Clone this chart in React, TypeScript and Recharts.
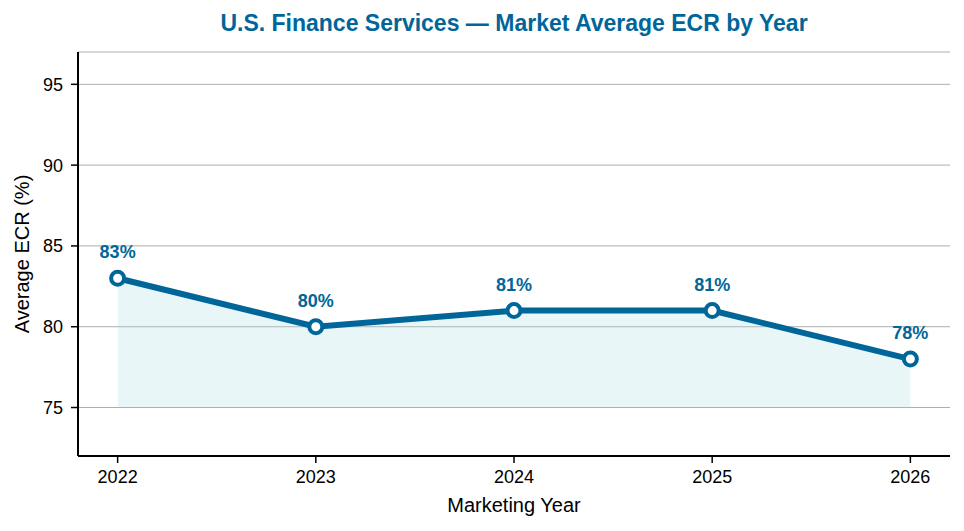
import React from 'react';
import { ComposedChart, Line, Area, XAxis, YAxis, CartesianGrid, LabelList, Label } from 'recharts';

const years = [2022, 2023, 2024, 2025, 2026];
const ecr = [83, 80, 81, 81, 78];
const yTicks = [75, 80, 85, 90, 95];

const data = years.map((y, i) => ({ year: y, value: ecr[i] }));

const BLUE = '#006699';
const FONT = '"Liberation Sans", Arial, Helvetica, sans-serif';

export default function App() {
  return (
    <div style={{ position: 'absolute', left: 0, top: 0, width: 964, height: 531, background: '#fff', fontFamily: FONT }}>
      <ComposedChart width={964} height={531} data={data} margin={{ top: 52, right: 14, bottom: 0, left: 0 }}>
        <text x={514} y={31} textAnchor="middle" fill={BLUE} fontSize={23} fontWeight="bold" fontFamily={FONT}>
          U.S. Finance Services — Market Average ECR by Year
        </text>
        <CartesianGrid vertical={false} stroke="#adadad" strokeWidth={1} />
        <XAxis
          dataKey="year"
          type="number"
          domain={[2021.8, 2026.2]}
          ticks={years}
          height={75}
          axisLine={{ stroke: '#000', strokeWidth: 2 }}
          tickLine={{ stroke: '#000', strokeWidth: 1.5 }}
          tickSize={7}
          tickMargin={7}
          tick={{ fill: '#000', fontSize: 18, fontFamily: FONT }}
          allowDataOverflow
        >
          <Label
            content={() => (
              <text x={514} y={512} textAnchor="middle" fill="#000" fontSize={20} fontFamily={FONT}>
                Marketing Year
              </text>
            )}
          />
        </XAxis>
        <YAxis
          type="number"
          domain={[72, 97]}
          ticks={yTicks}
          width={78}
          axisLine={{ stroke: '#000', strokeWidth: 2 }}
          tickLine={{ stroke: '#000', strokeWidth: 1.5 }}
          tickSize={7}
          tickMargin={8}
          tick={{ fill: '#000', fontSize: 18, fontFamily: FONT }}
          allowDataOverflow
        >
          <Label
            content={() => (
              <text x={29} y={254} transform="rotate(-90, 29, 254)" textAnchor="middle" fill="#000" fontSize={20} fontFamily={FONT}>
                Average ECR (%)
              </text>
            )}
          />
        </YAxis>
        <Area
          type="linear"
          dataKey="value"
          baseValue={75}
          fill="#a8dde5"
          fillOpacity={0.25}
          stroke="none"
          isAnimationActive={false}
          dot={false}
          activeDot={false}
        />
        <Line
          type="linear"
          dataKey="value"
          stroke={BLUE}
          strokeWidth={6}
          dot={{ r: 6.5, fill: '#fff', stroke: BLUE, strokeWidth: 4 }}
          activeDot={false}
          isAnimationActive={false}
        >
          <LabelList
            dataKey="value"
            position="top"
            offset={20}
            formatter={(v: number) => `${v}%`}
            style={{ fill: BLUE, fontSize: 18, fontWeight: 'bold', fontFamily: FONT }}
          />
        </Line>
      </ComposedChart>
    </div>
  );
}
